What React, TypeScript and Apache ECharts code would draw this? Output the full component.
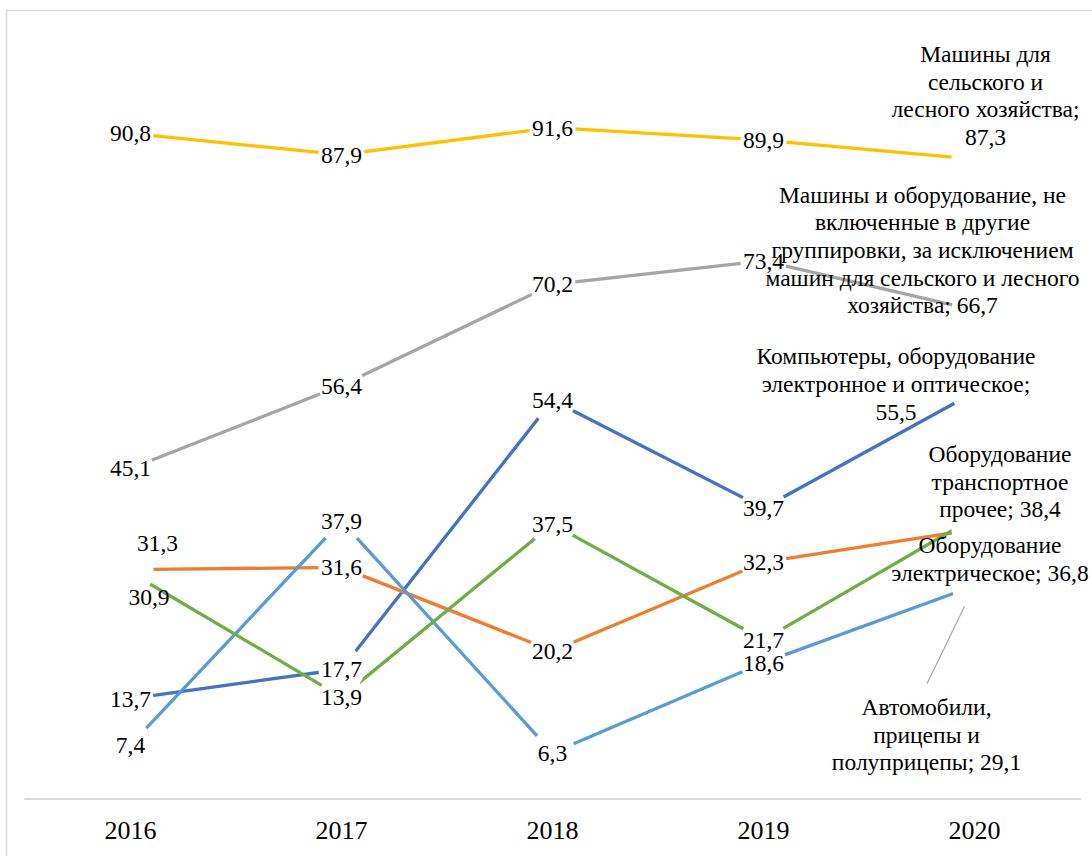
import React, { useEffect, useRef } from "react";
import * as echarts from "echarts";

// ---- data ----
const years = ["2016", "2017", "2018", "2019", "2020"];
const seriesNames = [
  "Компьютеры, оборудование электронное и оптическое",
  "Оборудование электрическое",
  "Машины и оборудование, не включенные в другие группировки, за исключением машин для сельского и лесного хозяйства",
  "Машины для сельского и лесного хозяйства",
  "Автомобили, прицепы и полуприцепы",
  "Оборудование транспортное прочее",
];
const computers = [13.7, 17.7, 54.4, 39.7, 55.5];
const electrical = [31.3, 31.6, 20.2, 32.3, 36.8];
const machinery = [45.1, 56.4, 70.2, 73.4, 66.7];
const agriculture = [90.8, 87.9, 91.6, 89.9, 87.3];
const automobiles = [7.4, 37.9, 6.3, 18.6, 29.1];
const transport = [30.9, 13.9, 37.5, 21.7, 38.4];
const seriesValues = [computers, electrical, machinery, agriculture, automobiles, transport];

// wrapped series names used in the end-of-line labels
const endLabelNames = [
  "Компьютеры, оборудование\nэлектронное и оптическое;",
  "Оборудование\nэлектрическое;",
  "Машины и оборудование, не\nвключенные в другие\nгруппировки, за исключением\nмашин для сельского и лесного\nхозяйства;",
  "Машины для\nсельского и\nлесного хозяйства;",
  "Автомобили,\nприцепы и\nполуприцепы;",
  "Оборудование\nтранспортное\nпрочее;",
];

// ---- styling / layout ----
const colors = ["#4472C4", "#ED7D31", "#A5A5A5", "#FFC000", "#5B9BD5", "#70AD47"];
const endSeparators = ["\n", " ", " ", "\n", " ", " "];
const labelOffsets: Record<number, Record<number, [number, number]>> = {
  0: { 4: [-78.5, -8] },
  1: { 0: [27, -27], 4: [15.5, 30] },
  2: { 4: [-52, -60] },
  3: { 4: [11, -63.5] },
  4: { 4: [-48, 149] },
  5: { 0: [18.5, 24], 4: [25.5, -36] },
};
const leaderSeries = 4;
const leaderOffset: [number, number] = [-47.5, 98];
const FONT = "Liberation Serif";

const fmt = (v: number) => v.toFixed(1).replace(".", ",");

export default function App() {
  const ref = useRef<HTMLDivElement>(null);

  useEffect(() => {
    if (!ref.current) return;
    const chart = echarts.init(ref.current, undefined, { renderer: "svg" });

    const series = seriesValues.map((vals, si) => ({
      type: "line",
      name: seriesNames[si],
      silent: true,
      symbol: "circle",
      symbolSize: 46,
      showSymbol: true,
      lineStyle: { color: colors[si], width: 3.3 },
      itemStyle: { color: "#ffffff", borderWidth: 0 },
      label: {
        show: true,
        position: "inside",
        color: "#000000",
        fontFamily: FONT,
        fontSize: 23.5,
        lineHeight: 27.7,
        align: "center",
        verticalAlign: "middle",
      },
      data: vals.map((v, di) => {
        const off = labelOffsets[si]?.[di];
        const isLast = di === vals.length - 1;
        return {
          value: v,
          label: {
            offset: off || [0, 0],
            formatter: isLast ? endLabelNames[si] + endSeparators[si] + fmt(v) : fmt(v),
          },
        };
      }),
    }));

    chart.setOption({
      animation: false,
      backgroundColor: "#ffffff",
      textStyle: { fontFamily: FONT },
      grid: { left: 25, right: 12, top: 66, bottom: 57, containLabel: false },
      xAxis: {
        type: "category",
        data: years,
        boundaryGap: true,
        axisLine: { show: true, lineStyle: { color: "#D9D9D9", width: 2 } },
        axisTick: { show: false },
        axisLabel: { color: "#000000", fontFamily: FONT, fontSize: 26, margin: 18 },
        splitLine: { show: false },
      },
      yAxis: { type: "value", min: 0, max: 100, show: false, splitLine: { show: false } },
      series,
    });

    const p = chart.convertToPixel({ xAxisIndex: 0, yAxisIndex: 0 }, [
      years.length - 1,
      seriesValues[leaderSeries][years.length - 1],
    ]) as number[];

    chart.setOption({
      graphic: [
        {
          type: "rect",
          silent: true,
          shape: { x: 6.5, y: 10.5, width: 1200, height: 1000 },
          style: { fill: "none", stroke: "#D9D9D9", lineWidth: 1.6 },
        },
        {
          type: "line",
          silent: true,
          shape: { x1: p[0], y1: p[1], x2: p[0] + leaderOffset[0], y2: p[1] + leaderOffset[1] },
          style: { stroke: "#A6A6A6", lineWidth: 1.2 },
        },
      ],
    });

    return () => chart.dispose();
  }, []);

  return (
    <div
      ref={ref}
      style={{ position: "absolute", left: 0, top: 0, width: 1092, height: 856, background: "#fff" }}
    />
  );
}
